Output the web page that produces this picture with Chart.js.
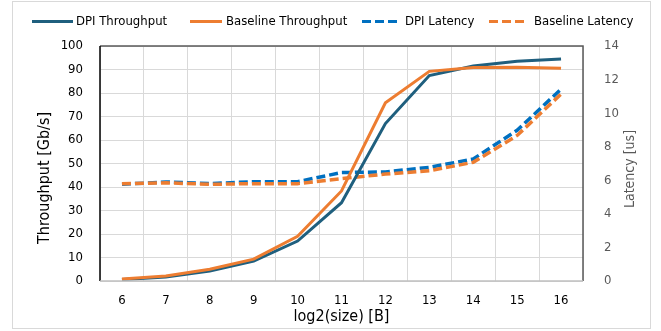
<!DOCTYPE html>
<html>
<head>
<meta charset="utf-8">
<script src="https://cdn.jsdelivr.net/npm/chart.js@4"></script>
<style>
  html, body { margin: 0; padding: 0; background: #fff; }
</style>
</head>
<body>
<canvas id="chart" width="661" height="331"></canvas>
<script>
const sizes = ['6', '7', '8', '9', '10', '11', '12', '13', '14', '15', '16'];

// Throughput [Gb/s]
const dpiThroughput = [0.6, 1.7, 4.2, 8.5, 17, 33.3, 67, 87.4, 91.5, 93.5, 94.5];
const baseThroughput = [0.9, 2.1, 5, 9.3, 19, 38.3, 75.8, 89.2, 90.8, 91, 90.5];

// Latency [us]
const dpiLatency = [5.76, 5.9, 5.8, 5.92, 5.92, 6.46, 6.5, 6.77, 7.27, 8.98, 11.43];
const baseLatency = [5.8, 5.85, 5.76, 5.8, 5.8, 6.1, 6.37, 6.57, 7.07, 8.67, 11.14];

const FONT = '"DejaVu Sans Condensed", sans-serif';
Chart.defaults.font.family = FONT;

// legend entries: line start/end and text x (drawn by hand, Excel style)
const legendPos = [[32, 73, 76], [190, 222, 226], [362, 398, 405], [489, 526, 534]];

const excelDecor = {
    id: 'excelDecor',
    beforeDraw(chart) {
        const { ctx } = chart;
        ctx.save();
        ctx.strokeStyle = '#d9d9d9';
        ctx.lineWidth = 1;
        ctx.strokeRect(12.5, 1.5, 638, 327);
        ctx.restore();
    },
    afterDatasetsDraw(chart) {
        const { ctx, chartArea: a } = chart;
        ctx.save();
        // plot frame
        ctx.lineWidth = 1.5;
        ctx.strokeStyle = '#595959';
        ctx.beginPath();
        ctx.moveTo(a.left, a.top);
        ctx.lineTo(a.right, a.top);
        ctx.lineTo(a.right, a.bottom);
        ctx.stroke();
        ctx.strokeStyle = '#000';
        ctx.beginPath();
        ctx.moveTo(a.left, a.top);
        ctx.lineTo(a.left, a.bottom);
        ctx.stroke();
        ctx.strokeStyle = '#bfbfbf';
        ctx.beginPath();
        ctx.moveTo(a.left, a.bottom);
        ctx.lineTo(a.right, a.bottom);
        ctx.stroke();

        // legend
        ctx.font = '13px ' + FONT;
        ctx.textBaseline = 'middle';
        ctx.textAlign = 'left';
        chart.data.datasets.forEach((ds, i) => {
            const [x0, x1, tx] = legendPos[i];
            ctx.strokeStyle = ds.borderColor;
            ctx.lineWidth = 3;
            ctx.setLineDash(ds.borderDash || []);
            ctx.beginPath();
            ctx.moveTo(x0, 21.5);
            ctx.lineTo(x1, 21.5);
            ctx.stroke();
            ctx.setLineDash([]);
            ctx.fillStyle = '#000';
            ctx.fillText(ds.label, tx, 22);
        });

        // axis titles
        ctx.textAlign = 'center';
        ctx.font = '16px ' + FONT;
        ctx.fillStyle = '#000';
        ctx.fillText('log2(size) [B]', (a.left + a.right) / 2, 317);

        ctx.save();
        ctx.translate(45, 178);
        ctx.rotate(-Math.PI / 2);
        ctx.fillText('Throughput [Gb/s]', 0, 0);
        ctx.restore();

        ctx.translate(630, 169);
        ctx.rotate(-Math.PI / 2);
        ctx.font = '14px ' + FONT;
        ctx.fillStyle = '#595959';
        ctx.fillText('Latency [us]', 0, 0);
        ctx.restore();
    }
};

new Chart(document.getElementById('chart').getContext('2d'), {
    type: 'line',
    data: {
        labels: sizes,
        datasets: [
            {
                label: 'DPI Throughput',
                data: dpiThroughput,
                borderColor: '#1f5f7e',
                borderWidth: 3,
                pointRadius: 0,
                yAxisID: 'y',
                order: 1
            },
            {
                label: 'Baseline Throughput',
                data: baseThroughput,
                borderColor: '#ed7d31',
                borderWidth: 3,
                pointRadius: 0,
                yAxisID: 'y',
                order: 0
            },
            {
                label: 'DPI Latency',
                data: dpiLatency,
                borderColor: '#0070c0',
                borderWidth: 3.5,
                borderDash: [9, 4],
                pointRadius: 0,
                yAxisID: 'y1',
                order: 3
            },
            {
                label: 'Baseline Latency',
                data: baseLatency,
                borderColor: '#ed7d31',
                borderWidth: 3.5,
                borderDash: [9, 4],
                pointRadius: 0,
                yAxisID: 'y1',
                order: 2
            }
        ]
    },
    options: {
        responsive: false,
        animation: false,
        layout: {
            padding: { left: 12, right: 10, top: 46, bottom: 0 }
        },
        plugins: {
            legend: { display: false },
            tooltip: { enabled: false }
        },
        scales: {
            x: {
                offset: true,
                grid: { offset: true, color: '#d9d9d9', drawTicks: false },
                border: { display: false },
                ticks: { color: '#000', padding: 12, font: { size: 13 } },
                afterFit: s => { s.height = 50; }
            },
            y: {
                position: 'left',
                min: 0,
                max: 100,
                ticks: { stepSize: 10, autoSkip: false, color: '#000', padding: 17, font: { size: 13 } },
                grid: { color: '#d9d9d9', drawTicks: false },
                border: { display: false },
                afterFit: s => { s.width = 88; }
            },
            y1: {
                position: 'right',
                min: 0,
                max: 14,
                ticks: { stepSize: 2, autoSkip: false, color: '#595959', padding: 13, font: { size: 13 } },
                grid: { display: false },
                border: { display: false },
                afterFit: s => { s.width = 68; }
            }
        }
    },
    plugins: [excelDecor]
});
</script>
</body>
</html>
